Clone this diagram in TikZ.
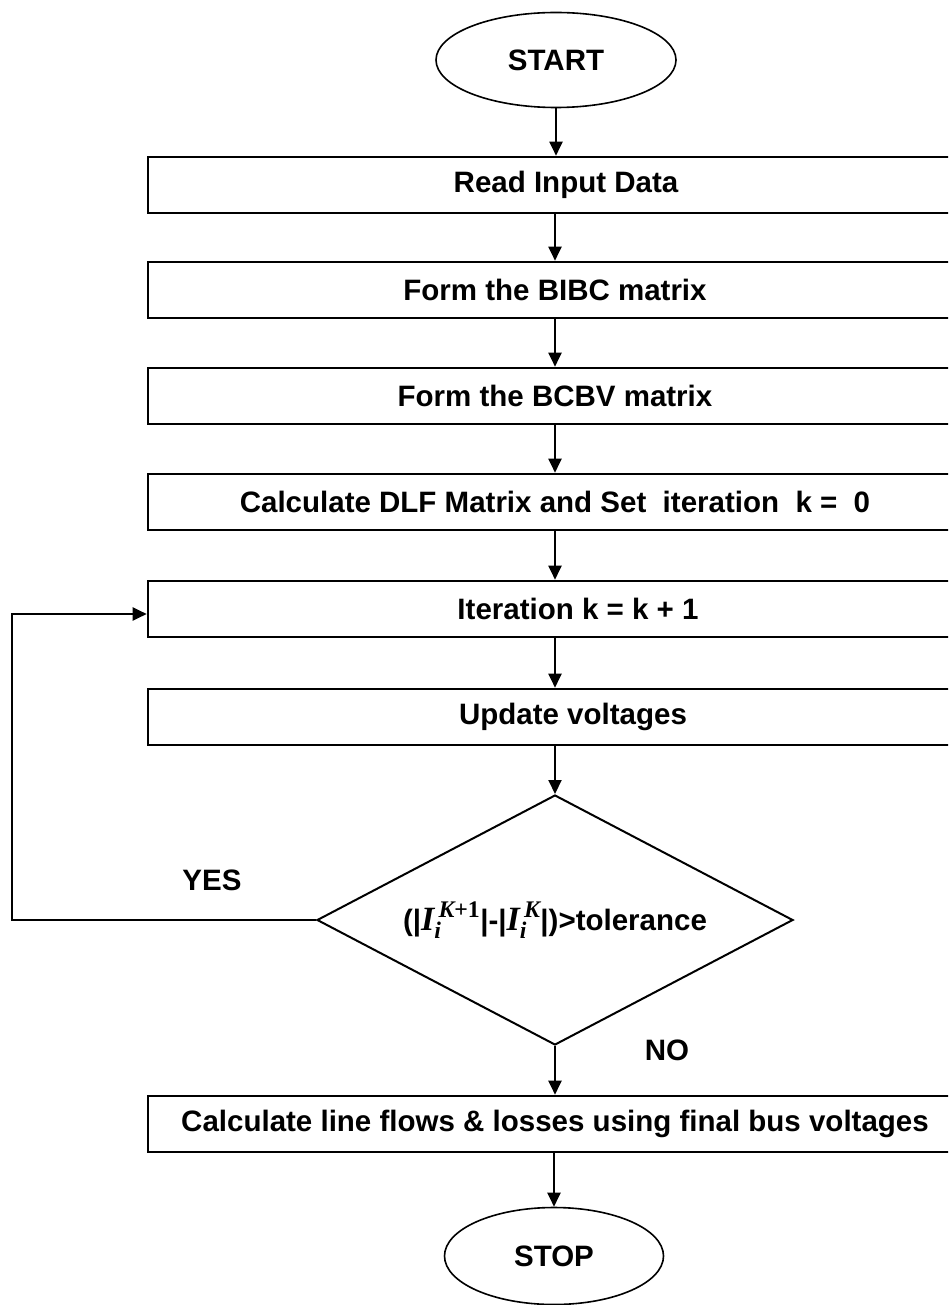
\documentclass[tikz,border=0pt]{standalone}
\usepackage{amsmath}
\usepackage{fontspec}
\setmainfont{Liberation Sans}
\newfontfamily\serifm{Liberation Serif}
\newcommand{\vbi}[1]{\text{\serifm\bfseries\itshape #1}}
\newcommand{\vbu}[1]{\text{\serifm\bfseries #1}}
\newcommand{\curr}[1]{{\fontsize{34}{38}\selectfont$\vbi{I}_{\vbi{i}\,}^{\,#1}$}}
\usetikzlibrary{arrows.meta,shapes.geometric}
\begin{document}
\begin{tikzpicture}[x=1pt,y=-1pt,
  every node/.style={font=\fontsize{29.5}{35}\selectfont\bfseries},
  stepbox/.style={draw,rectangle,line width=2.6pt,minimum height=56pt,inner sep=0pt},
  term/.style={draw,ellipse,line width=1.6pt,inner sep=0pt},
  decide/.style={draw,diamond,line width=2pt,inner sep=0pt,minimum width=476pt,minimum height=250pt,aspect=1.9},
  lbl/.style={inner sep=0pt},
  arr/.style={line width=2pt,-{Triangle[length=14pt,width=13pt]}}]
\useasboundingbox (0,0) rectangle (948,1305);
\clip (0,0) rectangle (948,1305);
% terminals
\node[term,minimum width=240pt,minimum height=95pt] (start) at (556,60) {START};
\node[term,minimum width=219pt,minimum height=97pt] (stop) at (554,1256) {STOP};
% process boxes (left edge at x=148, right edges run past the page)
\node[stepbox,minimum width=836pt] (b1) at (566,185) {Read Input Data};
\node[stepbox,minimum width=814pt] (b2) at (555,290) {Form the BIBC matrix};
\node[stepbox,minimum width=814pt] (b3) at (555,396) {Form the BCBV matrix};
\node[stepbox,minimum width=814pt] (b4) at (555,502) {Calculate DLF Matrix and Set~ iteration~ k =~ 0};
\node[stepbox,minimum width=860pt] (b5) at (578,609) {Iteration k = k + 1};
\node[stepbox,minimum width=850pt] (b6) at (573,717) {Update voltages};
\node[stepbox,minimum width=814pt] (b7) at (555,1124) {Calculate line flows \& losses using final bus voltages};
% decision
\node[decide] (d) at (555,920) {(|\curr{\vbi{K}\vbu{+1}}|-|\curr{\vbi{K}}|)>tolerance};
% labels
\node[lbl] (yes) at (212,880) {YES};
\node[lbl] (no) at (667,1050) {NO};
% connectors
\coordinate (ax) at (555,0);
\draw[arr] (start.south) -- (start.south |- b1.north);
\draw[arr] (ax |- b1.south) -- (ax |- b2.north);
\draw[arr] (ax |- b2.south) -- (ax |- b3.north);
\draw[arr] (ax |- b3.south) -- (ax |- b4.north);
\draw[arr] (ax |- b4.south) -- (ax |- b5.north);
\draw[arr] (ax |- b5.south) -- (ax |- b6.north);
\draw[arr] (ax |- b6.south) -- (d.north);
\draw[arr] (d.south) -- (d.south |- b7.north);
\draw[arr] (stop.north |- b7.south) -- (stop.north);
\coordinate (loop) at (12,0);
\draw[arr] (d.west) -- (loop |- d.west) -- (loop |- 0,614) -- (b5.west |- 0,614);
\end{tikzpicture}
\end{document}
